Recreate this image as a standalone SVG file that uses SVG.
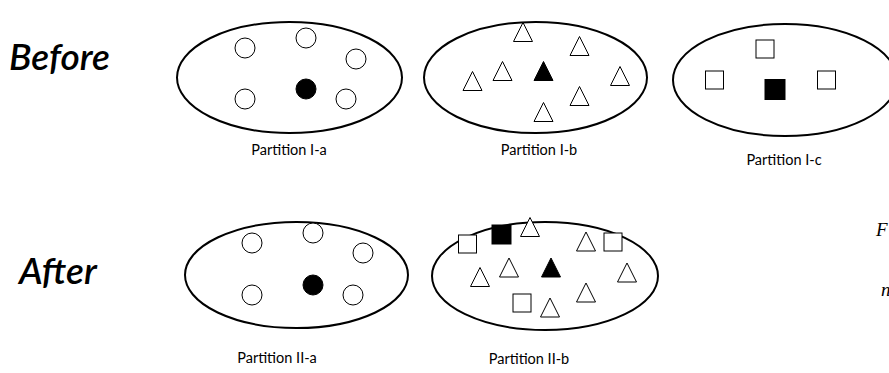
<svg xmlns="http://www.w3.org/2000/svg" width="889" height="373" viewBox="0 0 889 373">
  <style>
    .part { fill: none; stroke: #000; stroke-width: 2; }
    .hollow { fill: #fff; stroke: #000; stroke-width: 1; }
    .solid { fill: #000; stroke: #000; stroke-width: 1; }
    .label { font-family: Lato, "Open Sans", sans-serif; font-size: 14.5px; fill: #000; text-anchor: middle; }
    .phase { font-family: Lato, "Open Sans", sans-serif; font-style: italic; font-weight: 600; font-size: 37px; fill: #000; }
    .note { font-family: "Liberation Serif", serif; font-style: italic; font-size: 19px; fill: #000; }
  </style>
  <defs>
    <circle id="c" r="10"/>
    <path id="t" d="M0,-9.5 L9.5,9.5 L-9.5,9.5 Z"/>
    <rect id="s" x="-9" y="-9" width="18" height="18"/>
  </defs>
  <rect width="889" height="373" fill="#fff"/>

  <text class="phase" x="9" y="70">Before</text>
  <text class="phase" x="19" y="284">After</text>

  <!-- Partition I-a -->
  <g id="partition-1a">
    <ellipse class="part" cx="289.5" cy="77.5" rx="112.5" ry="55.5"/>
    <use href="#c" class="hollow" x="245" y="48"/>
    <use href="#c" class="hollow" x="306" y="38"/>
    <use href="#c" class="hollow" x="356" y="59"/>
    <use href="#c" class="hollow" x="245" y="99"/>
    <use href="#c" class="solid" x="306" y="89"/>
    <use href="#c" class="hollow" x="346" y="99"/>
    <text class="label" x="289" y="155">Partition I-a</text>
  </g>

  <!-- Partition I-b -->
  <g id="partition-1b">
    <ellipse class="part" cx="535.5" cy="77.5" rx="111.5" ry="55.5"/>
    <use href="#t" class="hollow" x="523" y="32"/>
    <use href="#t" class="hollow" x="579.5" y="46"/>
    <use href="#t" class="hollow" x="502.5" y="71"/>
    <use href="#t" class="hollow" x="472.5" y="81"/>
    <use href="#t" class="solid" x="543.5" y="71"/>
    <use href="#t" class="hollow" x="620" y="76"/>
    <use href="#t" class="hollow" x="579.5" y="96"/>
    <use href="#t" class="hollow" x="543.5" y="112"/>
    <text class="label" x="539" y="155">Partition I-b</text>
  </g>

  <!-- Partition I-c (runs off the right edge) -->
  <g id="partition-1c">
    <ellipse class="part" cx="785" cy="80" rx="112" ry="56"/>
    <use href="#s" class="hollow" x="765" y="49"/>
    <use href="#s" class="hollow" x="714.5" y="80"/>
    <rect class="solid" x="765" y="79.5" width="20" height="20"/>
    <use href="#s" class="hollow" x="826.5" y="80"/>
    <text class="label" x="784" y="165">Partition I-c</text>
  </g>

  <!-- Partition II-a -->
  <g id="partition-2a">
    <ellipse class="part" cx="296.5" cy="275" rx="111.5" ry="53"/>
    <use href="#c" class="hollow" x="252" y="243"/>
    <use href="#c" class="hollow" x="313" y="233"/>
    <use href="#c" class="hollow" x="363" y="253"/>
    <use href="#c" class="hollow" x="252" y="295"/>
    <use href="#c" class="solid" x="313" y="285"/>
    <use href="#c" class="hollow" x="353" y="295"/>
    <text class="label" x="277" y="363">Partition II-a</text>
  </g>

  <!-- Partition II-b: triangles and squares merged into one set -->
  <g id="partition-2b">
    <ellipse class="part" cx="545" cy="276" rx="113" ry="54"/>
    <use href="#s" class="hollow" x="467.5" y="244"/>
    <rect class="solid" x="492" y="225" width="19" height="19"/>
    <use href="#t" class="hollow" x="530" y="227"/>
    <use href="#t" class="hollow" x="586" y="241.5"/>
    <use href="#s" class="hollow" x="613" y="242"/>
    <use href="#t" class="hollow" x="480" y="277"/>
    <use href="#t" class="hollow" x="509" y="267.5"/>
    <use href="#t" class="solid" x="551" y="267.5"/>
    <use href="#t" class="hollow" x="627" y="272.5"/>
    <use href="#t" class="hollow" x="586" y="292.5"/>
    <use href="#s" class="hollow" x="522" y="303"/>
    <use href="#t" class="hollow" x="550" y="307.5"/>
    <text class="label" x="529" y="364">Partition II-b</text>
  </g>

  <text class="note" x="876" y="236">F</text>
  <text class="note" x="881" y="296">n</text>
</svg>
